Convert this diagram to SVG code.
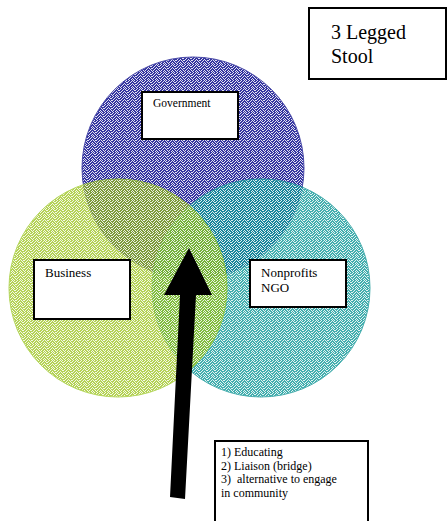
<svg xmlns="http://www.w3.org/2000/svg" width="447" height="521" viewBox="0 0 447 521">
<style>
.box{fill:#fff;stroke:#000;stroke-width:2}
.t{font-family:"Liberation Serif",serif;fill:#000}
.nz{fill:#fff;opacity:0.85}
</style>
<defs>
<path id="noise" d="M1 0h1v1h-1zM4 0h1v1h-1zM6 0h1v1h-1zM0 1h1v1h-1zM3 1h1v1h-1zM5 1h1v1h-1zM2 2h1v1h-1zM6 2h1v1h-1zM7 2h1v1h-1zM1 3h1v1h-1zM4 3h1v1h-1zM0 4h1v1h-1zM3 4h1v1h-1zM5 4h1v1h-1zM7 4h1v1h-1zM2 5h1v1h-1zM6 5h1v1h-1zM1 6h1v1h-1zM4 6h1v1h-1zM7 6h1v1h-1zM0 7h1v1h-1zM3 7h1v1h-1zM5 7h1v1h-1z"/>
<pattern id="pb" width="8" height="8" patternUnits="userSpaceOnUse">
<rect width="8" height="8" fill="#3535a0"/>
<use href="#noise" class="nz"/>
</pattern>
<pattern id="pg" width="8" height="8" patternUnits="userSpaceOnUse">
<rect width="8" height="8" fill="#98c214"/>
<use href="#noise" class="nz"/>
</pattern>
<pattern id="pt" width="8" height="8" patternUnits="userSpaceOnUse">
<rect width="8" height="8" fill="#139a9a"/>
<use href="#noise" class="nz"/>
</pattern>
</defs>
<g id="circles">
<circle cx="193" cy="168" r="111" fill="url(#pb)" stroke="#4a4aa8" stroke-width="1"/>
<circle cx="261" cy="288" r="109" fill="url(#pt)" stroke="#1a9a9a" stroke-width="1" opacity="0.8"/>
<circle cx="118" cy="288" r="109" fill="url(#pg)" stroke="#99c820" stroke-width="1" opacity="0.72"/>
</g>
<g id="government">
<rect class="box" x="142" y="92" width="96" height="47"/>
<text class="t" x="153" y="107" font-size="11.5">Government</text>
</g>
<g id="business">
<rect class="box" x="34" y="260" width="96" height="59"/>
<text class="t" x="45" y="277" font-size="13">Business</text>
</g>
<g id="nonprofits">
<rect class="box" x="250" y="260" width="96" height="47"/>
<text class="t" x="261" y="277" font-size="13">Nonprofits</text>
<text class="t" x="261" y="292" font-size="13">NGO</text>
</g>
<g id="stool">
<rect class="box" x="309" y="8" width="137" height="71" stroke-width="1.8"/>
<text class="t" x="331" y="39" font-size="20">3 Legged</text>
<text class="t" x="331" y="63" font-size="20">Stool</text>
</g>
<g id="roles">
<rect class="box" x="215" y="441" width="153" height="90" stroke-width="1.5"/>
<text class="t" x="221" y="456" font-size="12">1) Educating</text>
<text class="t" x="221" y="469.5" font-size="12">2) Liaison (bridge)</text>
<text class="t" x="221" y="483" font-size="12" xml:space="preserve">3)  alternative to engage</text>
<text class="t" x="221" y="496.5" font-size="12">in community</text>
</g>
<g id="connectors">
<polygon points="189,248 212,295 196,295 185,499 170,497 180,295 164,295" fill="#000"/>
</g>
</svg>
